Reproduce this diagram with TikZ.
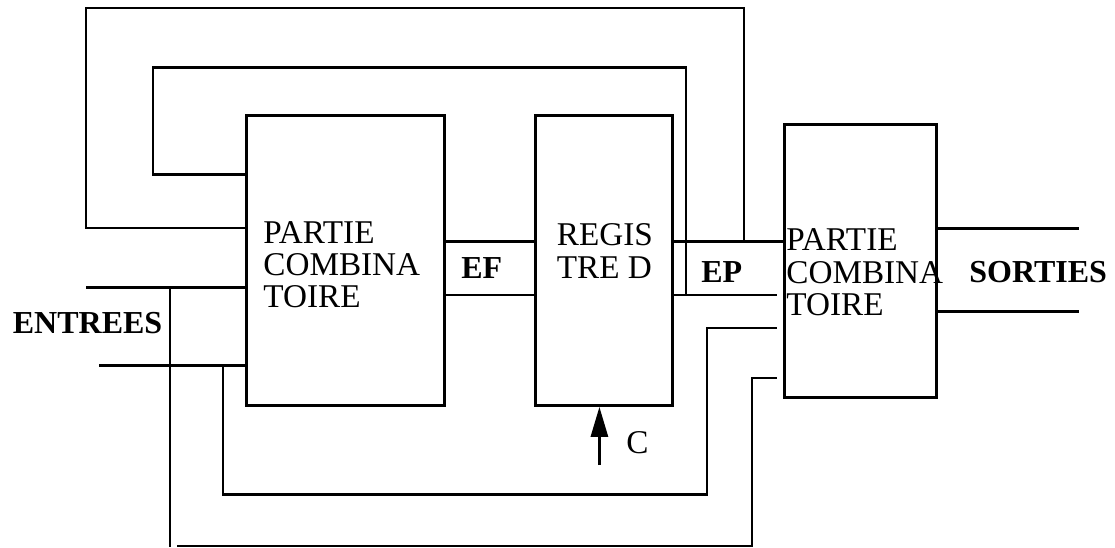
\documentclass[tikz,border=0pt]{standalone}
\usepackage{fontspec}
\setmainfont{Liberation Serif}
\usetikzlibrary{arrows.meta}
\begin{document}
\begin{tikzpicture}[x=0.5pt,y=-0.5pt,
  wire/.style={line width=1.45pt},
  block/.style={draw,line width=1.45pt,inner sep=0pt,anchor=north west},
  lbl/.style={inner sep=0pt,anchor=north west,align=left,font=\fontsize{16.6}{16.1}\selectfont},
  tag/.style={inner sep=0pt,anchor=base west,font=\fontsize{16}{16}\selectfont\bfseries},
  plain/.style={inner sep=0pt,anchor=base west,font=\fontsize{16.6}{16}\selectfont}]
\useasboundingbox (0,0) rectangle (1115,547);

% blocks
\node[block,minimum width=99pt,minimum height=145pt] (cl1) at (245,114) {};
\node[block,minimum width=68.5pt,minimum height=145pt] (reg) at (534,114) {};
\node[block,minimum width=76pt,minimum height=136.7pt] (cl2) at (783,122.7) {};

% block texts
\node[lbl] (t1) at (263,221) {PARTIE\\COMBINA\\TOIRE};
\node[lbl] (t2) at (556.5,223.5) {REGIS\\TRE D};
\node[lbl] (t3) at (786,228.5) {PARTIE\\COMBINA\\TOIRE};

% labels
\node[tag] (ef) at (461,278) {EF};
\node[tag] (ep) at (701,282) {EP};
\node[tag] (sorties) at (969,282) {SORTIES};
\node[tag] (entrees) at (12.5,333) {ENTREES};
\node[plain] (c) at (626,453) {C};

% coordinates
\coordinate (o1) at (86,228);
\coordinate (o2) at (744,8);
\coordinate (ep1) at (744,241.7);
\coordinate (s1) at (153,174.7);
\coordinate (s2) at (686,67.7);
\coordinate (ep2) at (686,295);
\coordinate (epend) at (776.5,295);
\coordinate (in1) at (86,287.7);
\coordinate (in2) at (99,365.3);
\coordinate (v1) at (170,287.7);
\coordinate (v1b) at (170,547);
\coordinate (l3a) at (223,365.3);
\coordinate (l3b) at (707,494.3);
\coordinate (l3c) at (776.5,328);
\coordinate (l4a) at (177,546);
\coordinate (l4b) at (752,378);
\coordinate (l4c) at (776.5,378);
\coordinate (out1) at (1079,228.3);
\coordinate (out2) at (1079,311.7);
\coordinate (clk) at (599.4,465);

% feedback loops
\draw[wire] (cl1.west |- o1) -- (o1) |- (o2) -- (ep1);
\draw[wire] (cl1.west |- s1) -- (s1) |- (s2) -- (ep2);

% EF / EP buses
\draw[wire] (cl1.east |- ep1) -- (reg.west |- ep1);
\draw[wire] (cl1.east |- ep2) -- (reg.west |- ep2);
\draw[wire] (reg.east |- ep1) -- (cl2.west |- ep1);
\draw[wire] (reg.east |- ep2) -- (epend);

% inputs
\draw[wire] (in1) -- (cl1.west |- in1);
\draw[wire] (in2) -- (cl1.west |- in2);
\draw[wire] (v1) -- (v1b);
\draw[wire] (l3a) |- (l3b) |- (l3c);
\draw[wire] (l4a) -| (l4b) -- (l4c);

% outputs
\draw[wire] (cl2.east |- out1) -- (out1);
\draw[wire] (cl2.east |- out2) -- (out2);

% clock
\draw[wire,-{Triangle[length=15pt,width=8.5pt]}] (clk) -- (clk |- reg.south);
\end{tikzpicture}
\end{document}
